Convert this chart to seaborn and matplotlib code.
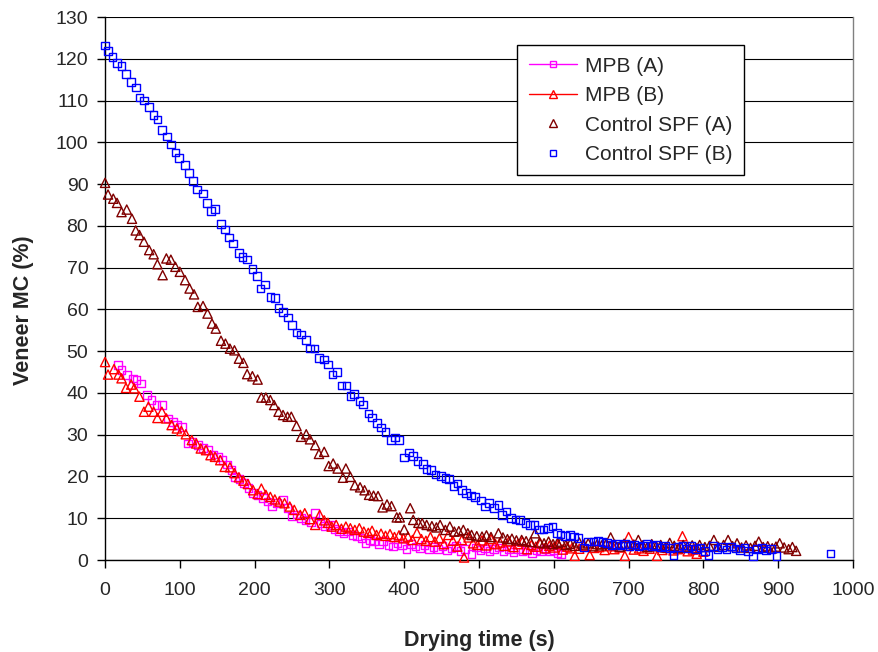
import pandas as pd
import matplotlib.pyplot as plt
import seaborn as sns
from matplotlib.lines import Line2D

# MPB (A) - magenta squares
mpb_a_t = [17, 22, 29, 37, 42, 48, 56, 62, 69, 76, 84, 91, 96, 103, 111, 117, 124, 131, 138, 145,
           151, 157, 163, 169, 174, 180, 186, 192, 198, 204, 211, 217, 223, 230, 238, 244, 250, 256, 262, 268,
           275, 281, 288, 294, 301, 307, 313, 319, 325, 331, 337, 343, 348, 354, 360, 366, 372, 379, 385, 391,
           397, 403, 409, 415, 421, 427, 433, 439, 445, 451, 457, 463, 469, 475, 481, 490, 496, 502, 508, 514,
           520, 527, 533, 540, 546, 552, 558, 564, 571, 577, 583, 589, 595, 600, 605, 610]
mpb_a_mc = [46.7, 45.5, 44.3, 43.5, 43.1, 42.3, 39.5, 38.3, 37.1, 37.1, 33.9, 33.1, 32.3, 31.9, 27.9, 28.3, 27.5, 26.8, 26.3, 25.3,
            24.6, 23.9, 22.9, 21.5, 19.9, 19.4, 18.5, 17.3, 16.0, 15.5, 14.9, 14.0, 12.8, 13.7, 14.4, 12.4, 10.4, 10.9, 10.0, 9.6,
            9.1, 11.2, 8.7, 8.1, 8.4, 7.4, 6.9, 6.4, 6.8, 6.0, 5.6, 5.2, 4.0, 4.8, 4.4, 3.8, 4.5, 3.6, 3.2, 4.0,
            3.5, 2.6, 3.8, 3.2, 2.8, 3.6, 2.5, 3.1, 2.7, 3.4, 2.3, 2.9, 3.3, 2.2, 2.6, 1.5, 3.0, 2.4, 2.8, 2.1,
            2.6, 3.0, 2.2, 2.5, 1.9, 2.7, 2.0, 2.4, 1.6, 2.3, 2.0, 2.6, 2.1, 2.4, 1.7, 1.5]

# MPB (B) - red triangles
mpb_b_t = [0, 4, 12, 18, 22, 28, 35, 39, 46, 52, 58, 65, 70, 76, 82, 89, 96, 102, 108, 116,
           122, 128, 135, 141, 147, 154, 160, 167, 173, 179, 185, 191, 198, 204, 209, 215, 221, 227, 233, 240,
           247, 253, 261, 267, 274, 281, 287, 293, 298, 303, 309, 316, 322, 328, 334, 340, 346, 352, 357, 363,
           369, 375, 381, 387, 393, 399, 405, 411, 417, 423, 429, 435, 441, 447, 453, 459, 465, 471, 477, 480,
           486, 492, 498, 504, 510, 516, 522, 528, 534, 540, 546, 552, 558, 564, 570, 576, 582, 588, 594, 600,
           606, 612, 618, 624, 628, 634, 640, 648, 654, 661, 668, 675, 681, 688, 695, 700, 707, 714, 720, 728,
           738, 745, 752, 760, 766, 772, 779, 786, 791, 800]
mpb_b_mc = [47.4, 44.4, 45.7, 44.4, 43.5, 41.2, 42.0, 41.1, 39.1, 35.5, 36.7, 35.5, 34.0, 35.5, 33.9, 32.3, 31.5, 30.9, 30.1, 28.7,
            27.9, 26.7, 26.3, 25.1, 24.7, 23.9, 22.3, 22.2, 20.8, 19.8, 19.0, 18.2, 16.7, 15.8, 17.1, 15.6, 15.1, 14.5, 14.0, 13.6,
            12.8, 12.0, 10.8, 11.2, 9.8, 8.4, 10.8, 9.5, 8.9, 8.0, 8.4, 7.5, 8.0, 7.6, 7.2, 7.6, 6.8, 6.5, 7.0, 6.0,
            6.3, 5.8, 6.2, 5.5, 5.9, 5.2, 5.6, 4.8, 6.5, 5.0, 4.6, 5.5, 4.4, 5.2, 3.8, 6.0, 4.6, 3.2, 4.8, 0.6,
            5.4, 4.0, 3.6, 4.7, 3.5, 5.0, 3.8, 4.2, 3.4, 4.5, 3.1, 3.8, 4.4, 2.6, 3.6, 3.2, 4.0, 2.8, 3.4, 3.0,
            3.8, 2.5, 3.2, 2.8, 1.0, 2.7, 3.4, 1.2, 2.9, 3.1, 2.4, 3.3, 2.6, 3.0, 1.0, 5.5, 2.5, 2.8, 2.2, 2.7,
            1.0, 2.4, 2.9, 2.3, 2.6, 5.7, 2.1, 2.5, 1.5, 2.0]

# Control SPF (A) - dark red triangles
spf_a_t = [0, 4, 11, 16, 22, 29, 36, 41, 46, 52, 59, 65, 70, 77, 82, 88, 94, 100, 107, 113,
           119, 124, 131, 137, 143, 148, 155, 161, 167, 173, 179, 185, 190, 197, 204, 209, 215, 221, 226, 232,
           238, 244, 249, 256, 262, 269, 274, 281, 286, 293, 299, 305, 311, 318, 322, 328, 334, 341, 347, 353,
           359, 365, 371, 377, 383, 390, 394, 400, 408, 412, 419, 424, 430, 437, 443, 448, 455, 461, 467, 473,
           479, 485, 490, 497, 504, 510, 516, 526, 532, 538, 544, 550, 557, 563, 569, 575, 581, 587, 593, 599,
           605, 610, 616, 622, 628, 634, 640, 646, 652, 658, 664, 670, 676, 682, 688, 694, 700, 707, 713, 719,
           725, 731, 737, 743, 749, 755, 761, 767, 773, 779, 785, 791, 795, 802, 808, 814, 820, 827, 833, 839,
           845, 851, 857, 863, 869, 874, 880, 886, 892, 897, 902, 908, 914, 919, 924]
spf_a_mc = [90.3, 87.5, 86.5, 85.5, 83.3, 83.9, 81.7, 78.9, 77.8, 76.2, 74.2, 73.2, 70.8, 68.2, 72.2, 71.9, 70.2, 69.0, 67.0, 65.0,
            63.6, 60.6, 60.8, 59.0, 56.6, 55.4, 52.5, 51.8, 50.6, 50.2, 48.2, 47.2, 44.5, 44.0, 43.2, 38.9, 38.9, 38.3, 37.1, 35.5,
            34.7, 34.3, 34.3, 32.1, 29.5, 30.1, 28.9, 27.5, 25.4, 25.9, 22.5, 23.1, 21.9, 19.7, 21.9, 19.9, 17.9, 17.4, 16.7, 15.6,
            15.4, 15.3, 12.6, 13.3, 12.9, 10.2, 10.2, 7.3, 12.4, 9.6, 8.9, 8.8, 8.4, 8.1, 7.8, 8.4, 7.2, 8.0, 6.8, 6.9,
            7.2, 6.4, 6.0, 5.7, 5.6, 5.9, 5.5, 6.4, 5.4, 5.0, 5.1, 4.7, 4.8, 4.5, 4.3, 6.4, 4.2, 4.0, 4.4, 3.8,
            4.1, 4.4, 3.6, 3.9, 3.4, 4.2, 3.7, 4.0, 3.3, 3.8, 3.5, 3.9, 5.4, 3.6, 3.2, 3.9, 3.4, 3.7, 4.8, 3.5,
            3.1, 3.8, 3.3, 3.6, 3.0, 4.1, 3.4, 2.9, 3.6, 3.2, 3.5, 2.8, 3.6, 3.1, 3.4, 4.8, 3.2, 3.6, 4.8, 3.3,
            4.0, 3.0, 3.5, 2.9, 3.4, 4.4, 3.1, 3.3, 2.8, 3.2, 4.0, 3.0, 2.6, 3.1, 2.2]

# Control SPF (B) - blue squares
spf_b_t = [0, 4, 10, 16, 22, 28, 35, 41, 46, 52, 59, 65, 70, 76, 83, 88, 94, 99, 107, 112,
           118, 123, 131, 136, 142, 147, 155, 160, 166, 171, 179, 184, 190, 197, 203, 208, 214, 221, 227, 232,
           238, 245, 250, 256, 262, 269, 274, 280, 286, 293, 298, 304, 310, 316, 323, 328, 333, 340, 345, 352,
           357, 364, 369, 375, 382, 388, 393, 400, 406, 412, 418, 425, 430, 436, 442, 449, 455, 460, 466, 471,
           477, 483, 489, 495, 503, 508, 513, 520, 526, 531, 537, 543, 549, 555, 562, 568, 574, 580, 586, 592,
           598, 604, 609, 615, 622, 627, 633, 640, 646, 653, 659, 665, 671, 677, 683, 689, 695, 701, 707, 713,
           719, 725, 731, 737, 743, 749, 755, 760, 766, 772, 778, 784, 790, 796, 802, 807, 813, 819, 825, 831,
           837, 843, 849, 855, 860, 866, 872, 878, 884, 890, 898, 970]
spf_b_mc = [123.2, 121.9, 120.4, 119.0, 118.3, 116.3, 114.4, 113.1, 110.7, 110.0, 108.4, 106.5, 105.5, 102.9, 101.4, 99.5, 97.6, 96.2, 94.5, 92.6,
            90.7, 88.7, 87.7, 85.5, 83.5, 84.0, 80.5, 79.1, 77.2, 75.8, 73.5, 72.6, 71.9, 69.6, 68.0, 65.0, 66.0, 63.0, 62.7, 60.4,
            59.4, 58.1, 56.2, 54.5, 54.0, 52.6, 50.6, 50.6, 48.3, 48.0, 46.8, 44.4, 45.0, 41.8, 41.8, 39.2, 39.8, 38.1, 37.2, 35.1,
            34.1, 32.8, 31.7, 30.6, 28.7, 29.3, 28.7, 24.5, 25.7, 24.9, 23.7, 23.0, 21.8, 21.6, 20.5, 20.1, 19.7, 19.4, 17.7, 18.3,
            16.7, 16.0, 15.4, 15.1, 14.2, 12.8, 13.6, 12.5, 13.2, 10.8, 11.6, 10.0, 9.7, 9.6, 8.9, 8.4, 8.4, 7.3, 7.3, 7.6,
            8.0, 6.4, 6.1, 5.8, 6.0, 5.6, 5.3, 3.0, 4.4, 4.4, 4.6, 4.3, 4.0, 3.6, 3.9, 3.5, 3.8, 3.4, 3.7, 3.2,
            3.5, 3.9, 3.3, 3.6, 3.0, 3.4, 2.9, 1.2, 3.1, 3.5, 2.8, 3.3, 2.6, 3.0, 2.2, 1.2, 3.4, 2.7, 3.1, 2.5,
            3.2, 2.8, 2.4, 3.0, 2.1, 1.0, 2.6, 2.9, 2.3, 2.7, 1.0, 1.6]

series = [
    ('MPB (A)', mpb_a_t, mpb_a_mc, '#FF00FF', 's', 30, True),
    ('MPB (B)', mpb_b_t, mpb_b_mc, '#FF0000', '^', 44, True),
    ('Control SPF (A)', spf_a_t, spf_a_mc, '#800000', '^', 44, False),
    ('Control SPF (B)', spf_b_t, spf_b_mc, '#0000FF', 's', 30, False),
]

sns.set_style('white')
plt.rcParams['font.family'] = ['Liberation Sans', 'DejaVu Sans']

fig = plt.figure(figsize=(8.79, 6.52), dpi=100)
ax = fig.add_axes([0.1195, 0.1411, 0.8509, 0.8328])

handles = []
for name, t, mc, col, mk, sz, with_line in series:
    df = pd.DataFrame({'t': t, 'mc': mc})
    sns.scatterplot(data=df, x='t', y='mc', ax=ax, marker=mk, s=sz,
                    color=col, facecolor='none', edgecolor=col, linewidth=1.0,
                    clip_on=False, zorder=3, legend=False)
    handles.append(Line2D([], [], color=col, linestyle='-' if with_line else 'none',
                          linewidth=1.0, marker=mk, markersize=5 if mk == 's' else 6,
                          markerfacecolor='none', markeredgecolor=col, markeredgewidth=1.0,
                          label=name))

ax.set_xlim(0, 1000)
ax.set_ylim(0, 130)
ax.set_xticks(range(0, 1001, 100))
ax.set_yticks(range(0, 131, 10))
ax.yaxis.grid(True, color='black', linewidth=0.8)
ax.set_axisbelow(True)

for s in ['left', 'bottom']:
    ax.spines[s].set_color('black')
    ax.spines[s].set_linewidth(1.0)
ax.spines['top'].set_visible(False)
ax.spines['right'].set_color('#808080')
ax.spines['right'].set_linewidth(1.0)

ax.tick_params(axis='both', direction='out', length=6, width=1, color='black',
               labelsize=14, pad=6, left=True, bottom=True)
ax.tick_params(axis='x', pad=10)

ax.set_xlabel('Drying time (s)', fontsize=15.5, fontweight='bold', labelpad=22)
ax.set_ylabel('Veneer MC (%)', fontsize=15.5, fontweight='bold')
ax.yaxis.set_label_coords(-0.095, 0.46)

leg = ax.legend(handles=handles, loc='upper left', bbox_to_anchor=(0.551, 0.948),
                borderaxespad=0, fontsize=15, frameon=True, fancybox=False,
                edgecolor='black', framealpha=1, labelspacing=0.5,
                handlelength=2.3, handletextpad=0.4, borderpad=0.55)
leg.get_frame().set_linewidth(1.0)

plt.savefig('out.png', dpi=100)
